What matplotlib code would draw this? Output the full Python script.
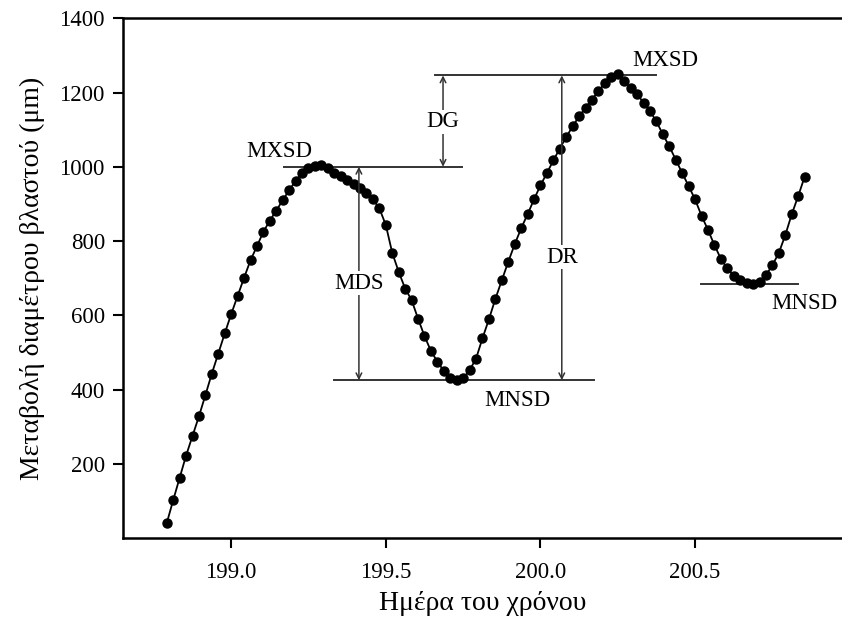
import numpy as np
import matplotlib
matplotlib.use("Agg")
import matplotlib.pyplot as plt

plt.rcParams['font.family'] = ['Liberation Serif', 'DejaVu Serif']

# Messwerte: Stammdurchmesser alle 30 min
t0 = 198 + 19/24          # erster Messpunkt (Tag 198, 19:00)
step = 1/48               # 30 Minuten
diam = [40, 102, 162, 222, 275, 328, 385, 443, 497, 551,
        603, 652, 701, 748, 786, 825, 855, 882, 910, 937,
        962, 983, 996, 1003, 1006, 996, 984, 974, 964, 954,
        942, 930, 912, 888, 843, 768, 717, 672, 641, 591,
        544, 504, 475, 450, 432, 425, 430, 452, 483, 538,
        589, 644, 694, 744, 791, 834, 872, 912, 950, 983,
        1017, 1049, 1080, 1109, 1136, 1159, 1181, 1204, 1226, 1242,
        1249, 1232, 1212, 1195, 1173, 1150, 1122, 1087, 1055, 1019,
        983, 948, 912, 868, 830, 789, 752, 726, 706, 695,
        687, 684, 690, 708, 735, 768, 816, 872, 921, 973]
days = t0 + step*np.arange(len(diam))

# Kennwerte
mxsd1, mnsd1, mxsd2, mnsd2 = 1000, 425, 1246, 683

xticks = [199.0, 199.5, 200.0, 200.5]
yticks = [200, 400, 600, 800, 1000, 1200, 1400]

fig = plt.figure(figsize=(8.42, 6.30), dpi=100)
ax = fig.add_axes([0.146, 0.146, 0.854, 0.825])

ax.plot(days, diam, '-', color='black', lw=1.3, marker='o', ms=6.5, zorder=3)

lc = '#333333'
# horizontale Linien
ax.plot([199.17, 199.746], [mxsd1, mxsd1], color=lc, lw=1.4)
ax.plot([199.332, 200.174], [mnsd1, mnsd1], color=lc, lw=1.4)
ax.plot([199.658, 200.374], [mxsd2, mxsd2], color=lc, lw=1.4)
ax.plot([200.52, 200.833], [mnsd2, mnsd2], color=lc, lw=1.4)

arw = dict(arrowstyle='<->', color=lc, lw=1.1, mutation_scale=10, shrinkA=0, shrinkB=0)
ax.annotate('', xy=(199.685, mxsd1), xytext=(199.685, mxsd2), arrowprops=arw)
ax.annotate('', xy=(199.413, mnsd1), xytext=(199.413, mxsd1), arrowprops=arw)
ax.annotate('', xy=(200.069, mnsd1), xytext=(200.069, mxsd2), arrowprops=arw)

fs = 16.5
box = dict(facecolor='white', edgecolor='none', pad=1)
ax.text(199.685, 1121, 'DG', fontsize=fs, ha='center', va='center', bbox=box)
ax.text(199.413, 686, 'MDS', fontsize=fs, ha='center', va='center', bbox=box)
ax.text(200.069, 756, 'DR', fontsize=fs, ha='center', va='center', bbox=box)
ax.text(199.157, 1040, 'MXSD', fontsize=fs, ha='center', va='center')
ax.text(200.403, 1287, 'MXSD', fontsize=fs, ha='center', va='center')
ax.text(199.924, 371, 'MNSD', fontsize=fs, ha='center', va='center')
ax.text(200.852, 632, 'MNSD', fontsize=fs, ha='center', va='center')

ax.set_xlim(198.65, 200.975)
ax.set_ylim(0, 1400)
ax.set_xticks(xticks)
ax.set_xticklabels([f"{v:.1f}" for v in xticks])
ax.set_yticks(yticks)
ax.tick_params(labelsize=16.5, width=1.5, length=7, direction='out')
ax.tick_params(axis='x', pad=10)
ax.tick_params(axis='y', pad=6)
for s in ['left', 'bottom', 'top']:
    ax.spines[s].set_linewidth(1.8)
ax.spines['right'].set_visible(False)

ax.set_xlabel("Ημέρα του χρόνου", fontsize=20, labelpad=6)
ax.set_ylabel("Μεταβολή διαμέτρου βλαστού (μm)", fontsize=20, labelpad=10)

fig.savefig("out.png", dpi=100)
